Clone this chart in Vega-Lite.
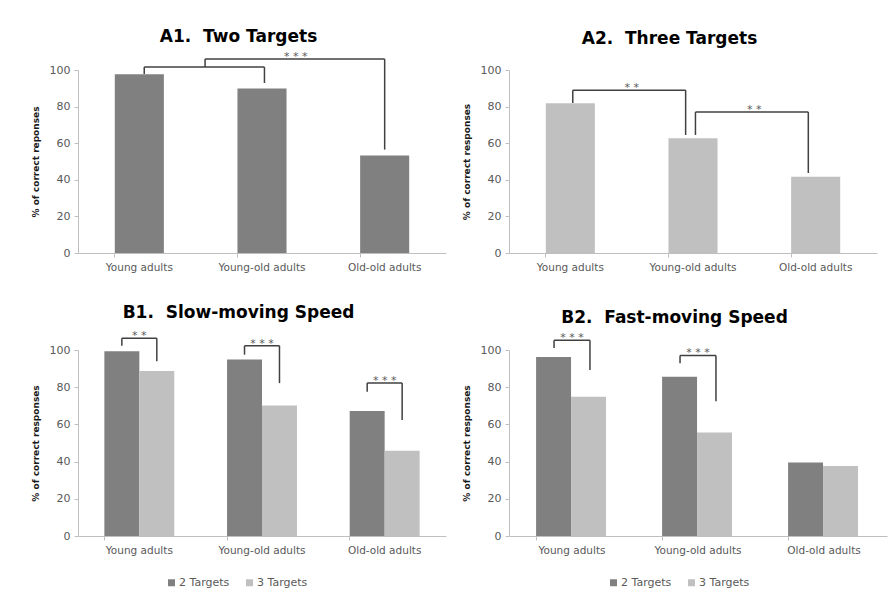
{
  "$schema": "https://vega.github.io/schema/vega-lite/v6.json",
  "background": "white",
  "padding": {"left": 31, "top": 28, "right": 5, "bottom": 5},
  "bounds": "flush",
  "columns": 2,
  "spacing": {"row": 97, "column": 63},
  "resolve": {"scale": {"color": "independent"}, "legend": {"color": "independent"}},
  "config": {
    "font": "DejaVu Sans",
    "view": {"stroke": null},
    "title": {"font": "DejaVu Sans", "fontSize": 17, "fontWeight": "bold", "color": "#000000", "anchor": "middle", "frame": "bounds", "baseline": "alphabetic", "offset": 10},
    "axisX": {"labelFont": "DejaVu Sans", "labelFontSize": 10.5, "labelColor": "#595959", "domainColor": "#bfbfbf", "tickColor": "#bfbfbf", "tickSize": 4, "labelPadding": 5, "labelAngle": 0, "bandPosition": 0, "title": null, "grid": false},
    "axisY": {"labelFont": "DejaVu Sans", "labelFontSize": 11, "labelColor": "#595959", "labelOverlap": false, "domainColor": "#bfbfbf", "tickColor": "#bfbfbf", "tickSize": 4, "labelPadding": 4, "titleFont": "DejaVu Sans", "titleFontSize": 9, "titleFontWeight": "bold", "titleColor": "#1a1a1a", "titlePadding": 9, "grid": false},
    "rule": {"color": "#404040", "strokeWidth": 1.5},
    "text": {"font": "DejaVu Sans", "fontSize": 11, "color": "#595959", "baseline": "alphabetic", "align": "center", "dy": 1}
  },
  "datasets": {
    "bars": [
      {"panel": "A1", "group": "Young adults", "series": "2 Targets", "value": 97.7},
      {"panel": "A1", "group": "Young-old adults", "series": "2 Targets", "value": 89.9},
      {"panel": "A1", "group": "Old-old adults", "series": "2 Targets", "value": 53.3},
      {"panel": "A2", "group": "Young adults", "series": "3 Targets", "value": 81.8},
      {"panel": "A2", "group": "Young-old adults", "series": "3 Targets", "value": 62.7},
      {"panel": "A2", "group": "Old-old adults", "series": "3 Targets", "value": 41.7},
      {"panel": "B1", "group": "Young adults", "series": "2 Targets", "value": 99.3},
      {"panel": "B1", "group": "Young adults", "series": "3 Targets", "value": 88.7},
      {"panel": "B1", "group": "Young-old adults", "series": "2 Targets", "value": 94.9},
      {"panel": "B1", "group": "Young-old adults", "series": "3 Targets", "value": 70.2},
      {"panel": "B1", "group": "Old-old adults", "series": "2 Targets", "value": 67.2},
      {"panel": "B1", "group": "Old-old adults", "series": "3 Targets", "value": 45.9},
      {"panel": "B2", "group": "Young adults", "series": "2 Targets", "value": 96.2},
      {"panel": "B2", "group": "Young adults", "series": "3 Targets", "value": 74.9},
      {"panel": "B2", "group": "Young-old adults", "series": "2 Targets", "value": 85.6},
      {"panel": "B2", "group": "Young-old adults", "series": "3 Targets", "value": 55.6},
      {"panel": "B2", "group": "Old-old adults", "series": "2 Targets", "value": 39.5},
      {"panel": "B2", "group": "Old-old adults", "series": "3 Targets", "value": 37.7}
    ],
    "brackets": [
      {"panel": "A1", "id": "A1a", "from": "Young adults", "to": "Young-old adults", "fromLo": 97.8, "top": 101.6, "toLo": 92.9, "label": ""},
      {"panel": "A1", "id": "A1b", "from": "Young adults", "to": "Old-old adults", "fromLo": 101.6, "top": 106, "toLo": 56.5, "label": "* * *"},
      {"panel": "A2", "id": "A2a", "from": "Young adults", "to": "Young-old adults", "fromLo": 82, "top": 89, "toLo": 64.5, "label": "* *"},
      {"panel": "A2", "id": "A2b", "from": "Young-old adults", "to": "Old-old adults", "fromLo": 64.5, "top": 77, "toLo": 43.7, "label": "* *"},
      {"panel": "B1", "id": "B1a", "from": "Young adults", "to": "Young adults", "fromLo": 102.3, "top": 106.3, "toLo": 94, "label": "* *"},
      {"panel": "B1", "id": "B1b", "from": "Young-old adults", "to": "Young-old adults", "fromLo": 97.5, "top": 102.3, "toLo": 82.2, "label": "* * *"},
      {"panel": "B1", "id": "B1c", "from": "Old-old adults", "to": "Old-old adults", "fromLo": 77.6, "top": 82.2, "toLo": 62.3, "label": "* * *"},
      {"panel": "B2", "id": "B2a", "from": "Young adults", "to": "Young adults", "fromLo": 101.1, "top": 105.3, "toLo": 89.2, "label": "* * *"},
      {"panel": "B2", "id": "B2b", "from": "Young-old adults", "to": "Young-old adults", "fromLo": 92.9, "top": 97.1, "toLo": 72.5, "label": "* * *"}
    ]
  },
  "concat": [
    {
      "width": 368, "height": 183,
      "title": {"text": "A1.\u00a0 Two Targets", "offset": 5},
      "layer": [
        {"data": {"name": "bars"}, "transform": [{"filter": "datum.panel == 'A1'"}],
         "mark": {"type": "bar", "color": "#808080"},
         "encoding": {
           "x": {"field": "group", "type": "nominal", "scale": {"domain": ["Young adults", "Young-old adults", "Old-old adults"], "paddingInner": 0.6, "paddingOuter": 0.3}, "axis": {"title": null}},
           "y": {"field": "value", "type": "quantitative", "scale": {"domain": [0, 100]}, "axis": {"title": "% of correct reponses", "values": [0, 20, 40, 60, 80, 100], "tickCount": 6, "labelOverlap": false}}
         }},
        {"data": {"name": "brackets"}, "transform": [{"filter": "datum.id == 'A1a'"}], "mark": "rule",
         "encoding": {"x": {"field": "from", "type": "nominal", "bandPosition": 0.6}, "y": {"field": "fromLo", "type": "quantitative"}, "y2": {"field": "top"}}},
        {"data": {"name": "brackets"}, "transform": [{"filter": "datum.id == 'A1a'"}], "mark": "rule",
         "encoding": {"x": {"field": "from", "type": "nominal", "bandPosition": 0.6}, "x2": {"field": "to", "bandPosition": 0.55}, "y": {"field": "top", "type": "quantitative"}}},
        {"data": {"name": "brackets"}, "transform": [{"filter": "datum.id == 'A1a'"}], "mark": "rule",
         "encoding": {"x": {"field": "to", "type": "nominal", "bandPosition": 0.55}, "y": {"field": "toLo", "type": "quantitative"}, "y2": {"field": "top"}}},
        {"data": {"name": "brackets"}, "transform": [{"filter": "datum.id == 'A1b'"}], "mark": "rule",
         "encoding": {"x": {"field": "from", "type": "nominal", "bandPosition": 1.84}, "y": {"field": "fromLo", "type": "quantitative"}, "y2": {"field": "top"}}},
        {"data": {"name": "brackets"}, "transform": [{"filter": "datum.id == 'A1b'"}], "mark": "rule",
         "encoding": {"x": {"field": "from", "type": "nominal", "bandPosition": 1.84}, "x2": {"field": "to", "bandPosition": 0.5}, "y": {"field": "top", "type": "quantitative"}}},
        {"data": {"name": "brackets"}, "transform": [{"filter": "datum.id == 'A1b'"}], "mark": "rule",
         "encoding": {"x": {"field": "to", "type": "nominal", "bandPosition": 0.5}, "y": {"field": "toLo", "type": "quantitative"}, "y2": {"field": "top"}}},
        {"data": {"name": "brackets"}, "transform": [{"filter": "datum.id == 'A1b'"}], "mark": "text",
         "encoding": {"x": {"field": "from", "type": "nominal", "bandPosition": 3.69}, "y": {"field": "top", "type": "quantitative"}, "text": {"field": "label"}}}
      ]
    },
    {
      "width": 368, "height": 183,
      "title": {"text": "A2.\u00a0 Three Targets", "offset": 16},
      "layer": [
        {"data": {"name": "bars"}, "transform": [{"filter": "datum.panel == 'A2'"}],
         "mark": {"type": "bar", "color": "#c0c0c0"},
         "encoding": {
           "x": {"field": "group", "type": "nominal", "scale": {"domain": ["Young adults", "Young-old adults", "Old-old adults"], "paddingInner": 0.6, "paddingOuter": 0.3}, "axis": {"title": null}},
           "y": {"field": "value", "type": "quantitative", "scale": {"domain": [0, 100]}, "axis": {"title": "% of correct responses", "values": [0, 20, 40, 60, 80, 100], "tickCount": 6, "labelOverlap": false}}
         }},
        {"data": {"name": "brackets"}, "transform": [{"filter": "datum.panel == 'A2'"}], "mark": "rule",
         "encoding": {"x": {"field": "from", "type": "nominal", "bandPosition": 0.55}, "y": {"field": "fromLo", "type": "quantitative"}, "y2": {"field": "top"}}},
        {"data": {"name": "brackets"}, "transform": [{"filter": "datum.panel == 'A2'"}], "mark": "rule",
         "encoding": {"x": {"field": "from", "type": "nominal", "bandPosition": 0.55}, "x2": {"field": "to", "bandPosition": 0.35}, "y": {"field": "top", "type": "quantitative"}}},
        {"data": {"name": "brackets"}, "transform": [{"filter": "datum.panel == 'A2'"}], "mark": "rule",
         "encoding": {"x": {"field": "to", "type": "nominal", "bandPosition": 0.35}, "y": {"field": "toLo", "type": "quantitative"}, "y2": {"field": "top"}}},
        {"data": {"name": "brackets"}, "transform": [{"filter": "datum.panel == 'A2'"}], "mark": "text",
         "encoding": {"x": {"field": "from", "type": "nominal", "bandPosition": 1.75}, "y": {"field": "top", "type": "quantitative"}, "text": {"field": "label"}}}
      ]
    },
    {
      "width": 368, "height": 186,
      "title": {"text": "B1.\u00a0 Slow-moving Speed", "offset": 8},
      "layer": [
        {"data": {"name": "bars"}, "transform": [{"filter": "datum.panel == 'B1'"}],
         "mark": {"type": "bar"},
         "encoding": {
           "x": {"field": "group", "type": "nominal", "scale": {"domain": ["Young adults", "Young-old adults", "Old-old adults"], "paddingInner": 0.43, "paddingOuter": 0.215}, "axis": {"title": null}},
           "xOffset": {"field": "series", "type": "nominal"},
           "y": {"field": "value", "type": "quantitative", "scale": {"domain": [0, 100]}, "axis": {"title": "% of correct responses", "values": [0, 20, 40, 60, 80, 100], "tickCount": 6, "labelOverlap": false}},
           "color": {"field": "series", "type": "nominal", "scale": {"range": ["#808080", "#c0c0c0"]},
             "legend": {"orient": "none", "legendX": 88, "legendY": 227, "direction": "horizontal", "title": null, "symbolType": "square", "symbolSize": 49, "symbolStrokeWidth": 0, "labelFont": "DejaVu Sans", "labelFontSize": 11, "labelColor": "#595959", "columnPadding": 14, "labelOffset": 2}}
         }},
        {"data": {"name": "brackets"}, "transform": [{"filter": "datum.panel == 'B1'"}], "mark": "rule",
         "encoding": {"x": {"field": "from", "type": "nominal", "bandPosition": 0.25}, "y": {"field": "fromLo", "type": "quantitative"}, "y2": {"field": "top"}}},
        {"data": {"name": "brackets"}, "transform": [{"filter": "datum.panel == 'B1'"}], "mark": "rule",
         "encoding": {"x": {"field": "from", "type": "nominal", "bandPosition": 0.25}, "x2": {"field": "to", "bandPosition": 0.75}, "y": {"field": "top", "type": "quantitative"}}},
        {"data": {"name": "brackets"}, "transform": [{"filter": "datum.panel == 'B1'"}], "mark": "rule",
         "encoding": {"x": {"field": "to", "type": "nominal", "bandPosition": 0.75}, "y": {"field": "toLo", "type": "quantitative"}, "y2": {"field": "top"}}},
        {"data": {"name": "brackets"}, "transform": [{"filter": "datum.panel == 'B1'"}], "mark": "text",
         "encoding": {"x": {"field": "from", "type": "nominal", "bandPosition": 0.5}, "y": {"field": "top", "type": "quantitative"}, "text": {"field": "label"}}}
      ]
    },
    {
      "width": 378, "height": 186,
      "title": {"text": "B2.\u00a0 Fast-moving Speed", "offset": 5},
      "layer": [
        {"data": {"name": "bars"}, "transform": [{"filter": "datum.panel == 'B2'"}],
         "mark": {"type": "bar"},
         "encoding": {
           "x": {"field": "group", "type": "nominal", "scale": {"domain": ["Young adults", "Young-old adults", "Old-old adults"], "paddingInner": 0.43, "paddingOuter": 0.215}, "axis": {"title": null}},
           "xOffset": {"field": "series", "type": "nominal"},
           "y": {"field": "value", "type": "quantitative", "scale": {"domain": [0, 100]}, "axis": {"title": "% of correct responses", "values": [0, 20, 40, 60, 80, 100], "tickCount": 6, "labelOverlap": false}},
           "color": {"field": "series", "type": "nominal", "scale": {"range": ["#808080", "#c0c0c0"]},
             "legend": {"orient": "none", "legendX": 99, "legendY": 227, "direction": "horizontal", "title": null, "symbolType": "square", "symbolSize": 49, "symbolStrokeWidth": 0, "labelFont": "DejaVu Sans", "labelFontSize": 11, "labelColor": "#595959", "columnPadding": 14, "labelOffset": 2}}
         }},
        {"data": {"name": "brackets"}, "transform": [{"filter": "datum.panel == 'B2'"}], "mark": "rule",
         "encoding": {"x": {"field": "from", "type": "nominal", "bandPosition": 0.25}, "y": {"field": "fromLo", "type": "quantitative"}, "y2": {"field": "top"}}},
        {"data": {"name": "brackets"}, "transform": [{"filter": "datum.panel == 'B2'"}], "mark": "rule",
         "encoding": {"x": {"field": "from", "type": "nominal", "bandPosition": 0.25}, "x2": {"field": "to", "bandPosition": 0.75}, "y": {"field": "top", "type": "quantitative"}}},
        {"data": {"name": "brackets"}, "transform": [{"filter": "datum.panel == 'B2'"}], "mark": "rule",
         "encoding": {"x": {"field": "to", "type": "nominal", "bandPosition": 0.75}, "y": {"field": "toLo", "type": "quantitative"}, "y2": {"field": "top"}}},
        {"data": {"name": "brackets"}, "transform": [{"filter": "datum.panel == 'B2'"}], "mark": "text",
         "encoding": {"x": {"field": "from", "type": "nominal", "bandPosition": 0.5}, "y": {"field": "top", "type": "quantitative"}, "text": {"field": "label"}}}
      ]
    }
  ]
}
